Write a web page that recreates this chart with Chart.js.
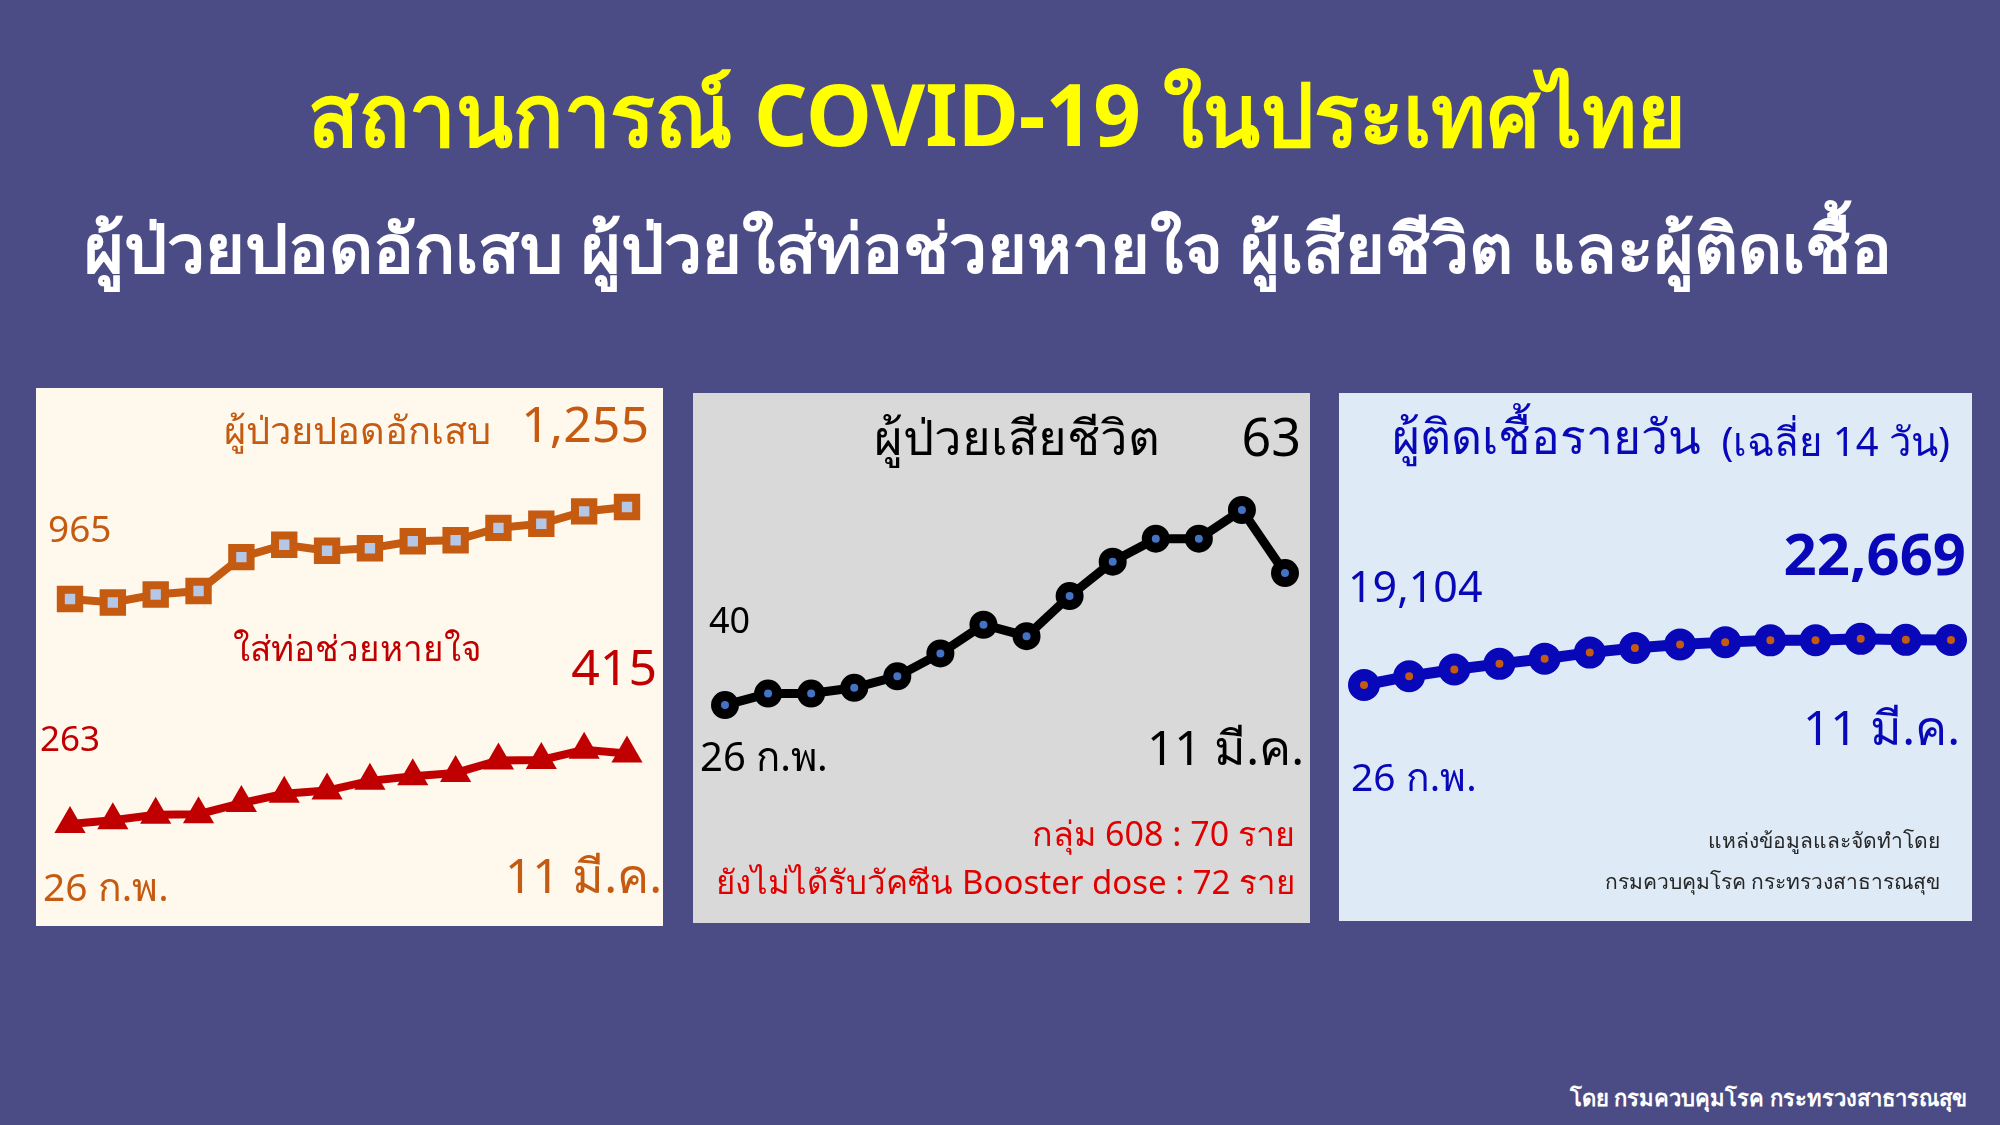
<!DOCTYPE html>
<html>
<head>
<meta charset="utf-8">
<script src="https://cdn.jsdelivr.net/npm/chart.js@4.4.0/dist/chart.umd.min.js"></script>
<style>
  html, body { margin: 0; padding: 0; }
  body {
    width: 2000px; height: 1125px; position: relative; overflow: hidden;
    background: #4b4c85;
    font-family: "Noto Sans", "Open Sans", sans-serif;
  }
  .panel { position: absolute; }
  .panel canvas { position: absolute; left: 0; top: 0; }
  .t { position: absolute; white-space: nowrap; line-height: 1; transform: translateY(-50%); }
</style>
</head>
<body>
<div id="page"></div>
<script>
// ข้อมูล 26 ก.พ. - 11 มี.ค.
const dates = ['26 ก.พ.', '27 ก.พ.', '28 ก.พ.', '1 มี.ค.', '2 มี.ค.', '3 มี.ค.', '4 มี.ค.',
  '5 มี.ค.', '6 มี.ค.', '7 มี.ค.', '8 มี.ค.', '9 มี.ค.', '10 มี.ค.', '11 มี.ค.'];
const pneumonia = [965, 954, 979, 990, 1097, 1136, 1117, 1125, 1147, 1150, 1189, 1202, 1241, 1255];
const ventilator = [263, 271, 283, 284, 308, 328, 335, 356, 366, 373, 400, 401, 423, 415];
const deaths = [40, 42, 42, 43, 45, 49, 54, 52, 59, 65, 69, 69, 74, 63];
const infections = [19104, 19800, 20330, 20780, 21190, 21670, 22030, 22310, 22500, 22640, 22650, 22760, 22680, 22669];

const fmt = v => v.toLocaleString('en-US');
const page = document.getElementById('page');

function addText(text, opts) {
  const el = document.createElement('div');
  el.className = 't';
  el.textContent = text;
  el.style.top = opts.y + 'px';
  if (opts.left !== undefined) el.style.left = opts.left + 'px';
  if (opts.right !== undefined) el.style.right = (2000 - opts.right) + 'px';
  if (opts.center !== undefined) {
    el.style.left = opts.center + 'px';
    el.style.transform = 'translate(-50%, -50%)' + (opts.sx ? ' scaleX(' + opts.sx + ')' : '');
  }
  el.style.fontSize = opts.size + 'px';
  el.style.color = opts.color;
  el.style.fontWeight = opts.bold ? 'bold' : 'normal';
  page.appendChild(el);
}

function addPanel(x, y, w, h, bg) {
  const div = document.createElement('div');
  div.className = 'panel';
  Object.assign(div.style, { left: x + 'px', top: y + 'px', width: w + 'px', height: h + 'px', background: bg });
  const canvas = document.createElement('canvas');
  canvas.width = w; canvas.height = h;
  div.appendChild(canvas);
  page.appendChild(div);
  return canvas;
}

function hiddenAxis(min, max) {
  return { display: false, min: min, max: max };
}

function baseOptions(pad, scales) {
  return {
    responsive: false,
    animation: false,
    layout: { autoPadding: false, padding: { left: pad[0], right: pad[1], top: 0, bottom: 0 } },
    plugins: { legend: { display: false }, tooltip: { enabled: false } },
    scales: Object.assign({ x: { display: false, offset: false } }, scales)
  };
}

// หัวเรื่อง
addText('สถานการณ์ COVID-19 ในประเทศไทย', { center: 997, y: 113, size: 86, sx: 0.97, color: '#ffff00', bold: true });
addText('ผู้ป่วยปอดอักเสบ ผู้ป่วยใส่ท่อช่วยหายใจ ผู้เสียชีวิต และผู้ติดเชื้อ', { center: 988, y: 247, size: 68, color: '#ffffff', bold: true });
addText('โดย กรมควบคุมโรค กระทรวงสาธารณสุข', { right: 1967, y: 1097, size: 22, color: '#ffffff', bold: true });

// แผง 1: ปอดอักเสบ + ใส่ท่อช่วยหายใจ
const orange = '#c55a11';
const darkRed = '#c00000';
const c1 = addPanel(36, 388, 627, 538, '#fff8ec');
new Chart(c1, {
  type: 'line',
  data: {
    labels: dates,
    datasets: [{
      data: pneumonia, yAxisID: 'y', borderColor: orange, borderWidth: 8,
      pointStyle: 'rect', pointRadius: 13, pointBorderWidth: 8,
      pointBorderColor: orange, pointBackgroundColor: '#b4c7e7', clip: false
    }, {
      data: ventilator, yAxisID: 'y2', borderColor: darkRed, backgroundColor: darkRed, borderWidth: 8,
      pointStyle: 'triangle', pointRadius: 14, pointBorderWidth: 4,
      pointBorderColor: darkRed, pointBackgroundColor: darkRed, clip: false
    }]
  },
  options: baseOptions([34, 36], { y: hiddenAxis(-66, 1630), y2: hiddenAxis(43, 1203) })
});
addText('ผู้ป่วยปอดอักเสบ', { left: 224, y: 429, size: 38, color: orange });
addText(fmt(pneumonia[pneumonia.length - 1]), { right: 649, y: 423, size: 50, color: orange });
addText(fmt(pneumonia[0]), { left: 48, y: 527, size: 37, color: orange });
addText('ใส่ท่อช่วยหายใจ', { left: 233, y: 647, size: 35, color: darkRed });
addText(fmt(ventilator[ventilator.length - 1]), { right: 657, y: 666, size: 50, color: darkRed });
addText(fmt(ventilator[0]), { left: 40, y: 737, size: 35, color: darkRed });
addText(dates[0], { left: 43, y: 885, size: 39, color: orange });
addText(dates[dates.length - 1], { right: 662, y: 875, size: 48, color: orange });

// แผง 2: ผู้เสียชีวิต
const c2 = addPanel(693, 393, 617, 530, '#d9d9d9');
new Chart(c2, {
  type: 'line',
  data: {
    labels: dates,
    datasets: [{
      data: deaths, borderColor: '#000000', borderWidth: 9,
      pointStyle: 'circle', pointRadius: 9, pointBorderWidth: 10,
      pointBorderColor: '#000000', pointBackgroundColor: '#4472c4', clip: false
    }]
  },
  options: baseOptions([32, 25], { y: hiddenAxis(2, 94.4) })
});
addText('ผู้ป่วยเสียชีวิต', { left: 874, y: 436, size: 49, color: '#000000' });
addText(fmt(deaths[deaths.length - 1]), { right: 1301, y: 436, size: 52, color: '#000000' });
addText(fmt(deaths[0]), { left: 709, y: 620, size: 36, color: '#000000' });
addText(dates[0], { left: 700, y: 756, size: 40, color: '#000000' });
addText(dates[dates.length - 1], { right: 1304, y: 747, size: 48, color: '#000000' });
addText('กลุ่ม 608 : 70 ราย', { right: 1295, y: 833, size: 34, color: '#e00000' });
addText('ยังไม่ได้รับวัคซีน Booster dose : 72 ราย', { right: 1295, y: 881, size: 33, color: '#e00000' });

// แผง 3: ผู้ติดเชื้อรายวัน
const blue = '#0808b8';
const c3 = addPanel(1339, 393, 633, 528, '#deebf7');
new Chart(c3, {
  type: 'line',
  data: {
    labels: dates,
    datasets: [{
      data: infections, borderColor: blue, borderWidth: 11,
      pointStyle: 'circle', pointRadius: 10, pointBorderWidth: 12,
      pointBorderColor: blue, pointBackgroundColor: orange, clip: false
    }]
  },
  options: baseOptions([25, 21], { y: hiddenAxis(413, 42231) })
});
addText('ผู้ติดเชื้อรายวัน', { left: 1392, y: 436, size: 48, color: blue });
addText('(เฉลี่ย 14 วัน)', { right: 1950, y: 441, size: 40, color: blue });
addText(fmt(infections[infections.length - 1]), { right: 1966, y: 553, size: 58, color: blue, bold: true });
addText(fmt(infections[0]), { left: 1348, y: 585, size: 43, color: blue });
addText(dates[dates.length - 1], { right: 1960, y: 727, size: 48, color: blue });
addText(dates[0], { left: 1351, y: 775, size: 39, color: blue });
addText('แหล่งข้อมูลและจัดทำโดย', { right: 1940, y: 840, size: 21, color: '#262626' });
addText('กรมควบคุมโรค กระทรวงสาธารณสุข', { right: 1940, y: 881, size: 21, color: '#262626' });
</script>
</body>
</html>
